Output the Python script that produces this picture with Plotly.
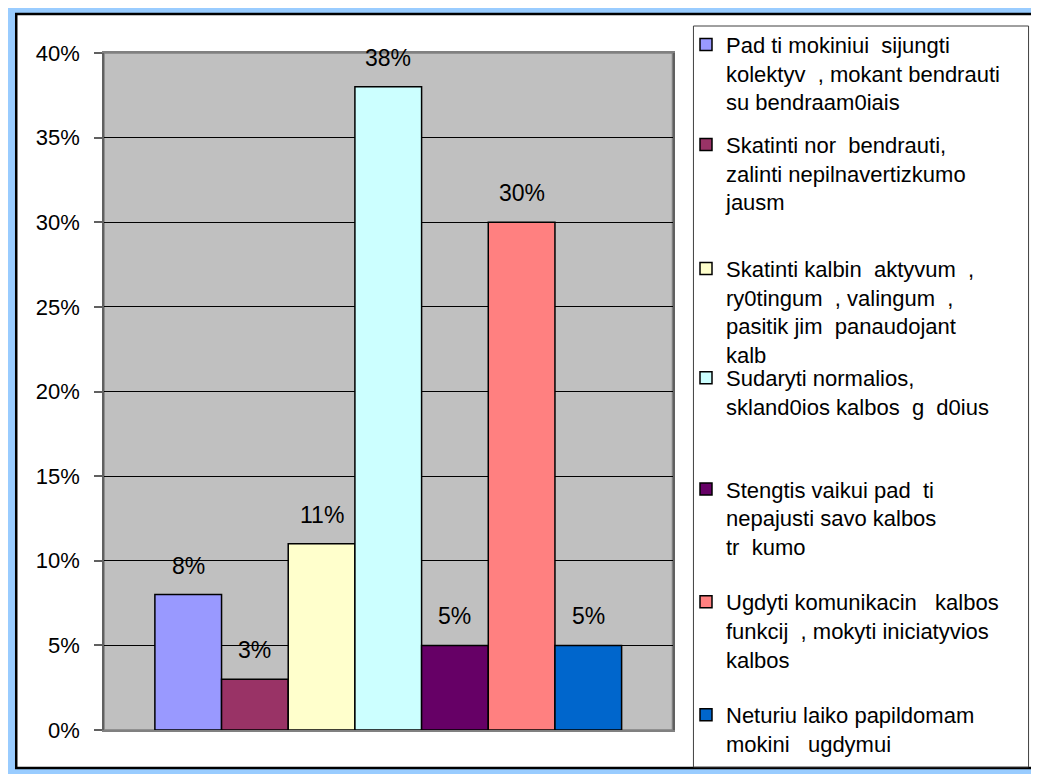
import plotly.graph_objects as go

# ---- data ----
categories = [
    "Pad ti mokiniui\u00a0\u00a0sijungti<br>kolektyv\u00a0\u00a0, mokant bendrauti<br>su bendraam0iais",
    "Skatinti nor\u00a0\u00a0bendrauti,<br>zalinti nepilnavertizkumo<br>jausm",
    "Skatinti kalbin\u00a0\u00a0aktyvum\u00a0\u00a0,<br>ry0tingum\u00a0\u00a0, valingum\u00a0\u00a0,<br>pasitik jim\u00a0\u00a0panaudojant<br>kalb",
    "Sudaryti normalios,<br>skland0ios kalbos\u00a0\u00a0g\u00a0\u00a0d0ius",
    "Stengtis vaikui pad\u00a0\u00a0ti<br>nepajusti savo kalbos<br>tr\u00a0\u00a0kumo",
    "Ugdyti komunikacin\u00a0\u00a0\u00a0kalbos<br>funkcij\u00a0\u00a0, mokyti iniciatyvios<br>kalbos",
    "Neturiu laiko papildomam<br>mokini\u00a0\u00a0\u00a0ugdymui",
]
values = [0.08, 0.03, 0.11, 0.38, 0.05, 0.30, 0.05]
bar_colors = ["#9999FF", "#993366", "#FFFFCC", "#CCFFFF", "#660066", "#FF8080", "#0066CC"]
y_ticks = [0, 0.05, 0.10, 0.15, 0.20, 0.25, 0.30, 0.35, 0.40]

# ---- layout geometry (screen pixels; page body has an 8px margin) ----
OFF = 8
W, H = 1039 - OFF, 774 - OFF
PLOT_X0, PLOT_X1, PLOT_Y0, PLOT_Y1 = 104, 674, 53, 730
L = PLOT_X0 - OFF
R = (1039 - OFF) - (PLOT_X1 - OFF)
T = PLOT_Y0 - OFF
B = (774 - OFF) - (PLOT_Y1 - OFF)
PW, PH = W - L - R, H - T - B
FONT = "Liberation Sans, Arial, sans-serif"
LEG_FONT = 22

def px_x(sx):
    return (sx - OFF - L) / PW

def px_y(sy):
    return (H - B - (sy - OFF)) / PH

legend_baselines = [52.7, 152.7, 276.7, 386, 497.3, 610, 723]

fig = go.Figure()
for i, (name, v, c) in enumerate(zip(categories, values, bar_colors)):
    lg = "legend" if i == 0 else f"legend{i+1}"
    fig.add_trace(go.Bar(
        x=[i], y=[v], width=[1], name=name,
        marker=dict(color=c, line=dict(color="#000000", width=1.5)),
        legend=lg, showlegend=True, hoverinfo="skip",
    ))
    fig.add_annotation(
        x=i, y=v, xref="x", yref="y", text=f"{round(v*100)}%",
        showarrow=False, yanchor="bottom", yshift=14,
        font=dict(family=FONT, size=23, color="#000000"),
    )

shapes = [
    # outer blue frame
    dict(type="rect", xref="paper", yref="paper", layer="below",
         x0=px_x(0), x1=px_x(1060), y0=px_y(0), y1=px_y(800),
         fillcolor="#99CCFF", line=dict(width=0)),
    # white chart area with black border
    dict(type="rect", xref="paper", yref="paper", layer="below",
         x0=px_x(16), x1=px_x(1037.5), y0=px_y(14), y1=px_y(768),
         fillcolor="#FFFFFF", line=dict(color="#000000", width=2.5)),
    # legend box
    dict(type="rect", xref="paper", yref="paper", layer="below",
         x0=px_x(695), x1=px_x(1031), y0=px_y(26), y1=px_y(767),
         fillcolor="#FFFFFF", line=dict(color="#404040", width=1)),
    # plot area background
    dict(type="rect", xref="paper", yref="paper", layer="below",
         x0=0, x1=1, y0=0, y1=1,
         fillcolor="#C0C0C0", line=dict(color="#808080", width=1.5)),
]

layout_legends = {}
for i, bl in enumerate(legend_baselines):
    key = "legend" if i == 0 else f"legend{i+1}"
    top = bl - OFF - 29
    layout_legends[key] = dict(
        xref="container", yref="container",
        x=(686 - OFF) / W, xanchor="left",
        y=1 - top / H, yanchor="top",
        bgcolor="rgba(0,0,0,0)", borderwidth=0,
        font=dict(family=FONT, size=LEG_FONT, color="#000000"),
        valign="top", itemwidth=30, itemclick=False, itemdoubleclick=False,
    )

fig.update_layout(
    width=W, height=H,
    margin=dict(l=L, r=R, t=T, b=B, pad=0),
    paper_bgcolor="#FFFFFF",
    plot_bgcolor="#C0C0C0",
    barmode="overlay",
    shapes=shapes,
    showlegend=True,
    font=dict(family=FONT, size=22, color="#000000"),
    xaxis=dict(
        range=[-1.263, 7.263], showticklabels=False, showgrid=False,
        zeroline=False, showline=True, linecolor="#808080", linewidth=1.5,
        mirror=True, ticks="", fixedrange=True,
    ),
    yaxis=dict(
        range=[0, 0.4], tickvals=y_ticks, tickformat=".0%",
        showgrid=True, gridcolor="#000000", gridwidth=1,
        zeroline=False, showline=True, linecolor="#606060", linewidth=1.5,
        mirror=True, ticks="outside", ticklen=8, tickcolor="#606060",
        tickwidth=1.5, ticklabelstandoff=10,
        tickfont=dict(family=FONT, size=22, color="#000000"), fixedrange=True,
    ),
    **layout_legends,
)

fig.write_html("out.html")
